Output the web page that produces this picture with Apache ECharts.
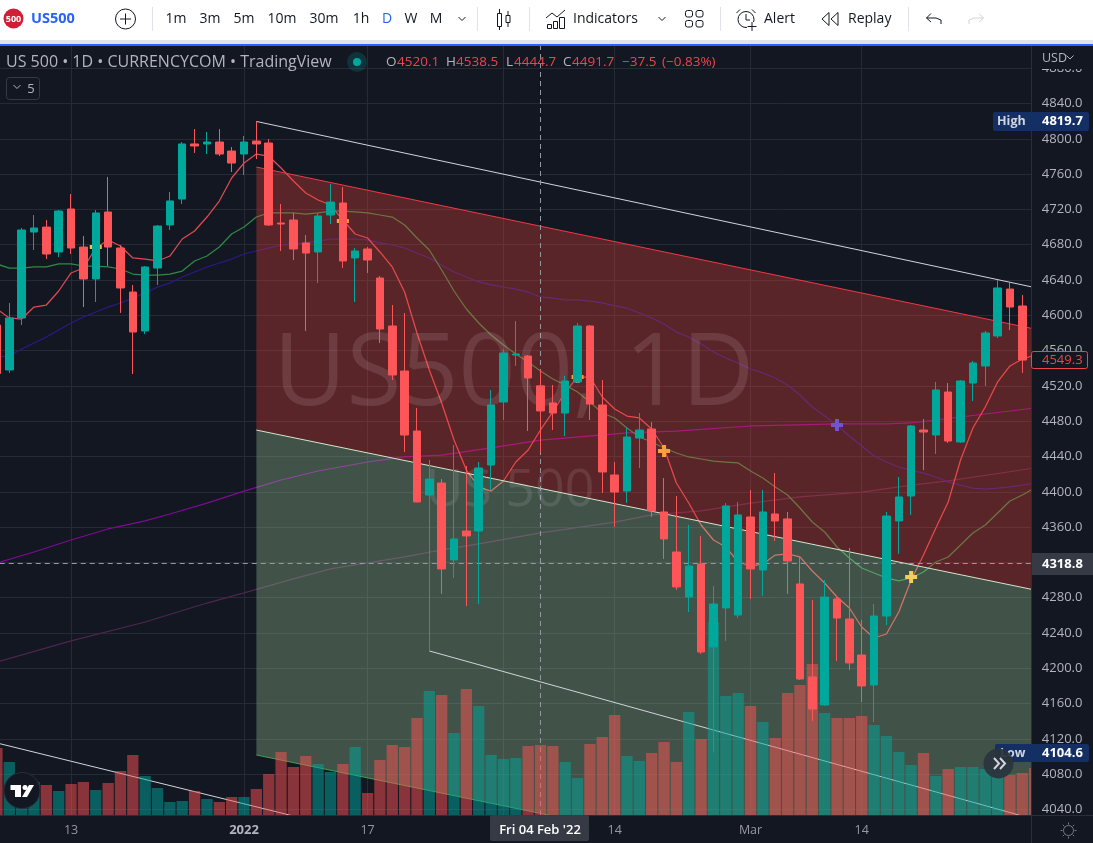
<!DOCTYPE html>
<html><head><meta charset="utf-8"><style>html,body{margin:0;padding:0;background:#131722}#c{width:1093px;height:843px}</style>
<script src="https://cdn.jsdelivr.net/npm/echarts@6/dist/echarts.min.js"></script></head><body><div id="c"></div>
<script>
const opens=[4589,4538.1,4597,4694.4,4700,4671.8,4720.5,4677.4,4641.2,4717.1,4676.3,4626.4,4582.3,4653.6,4702.4,4731.8,4794.2,4794.2,4796.4,4786.2,4782.8,4797.5,4795.3,4704.6,4708,4682,4671.8,4713.7,4727.3,4665,4675.2,4642.3,4587.9,4536.9,4468.9,4396.4,4410,4322.8,4355.6,4355.6,4430.4,4501.8,4555,4553.9,4520.1,4500.7,4489.3,4524.5,4587.9,4498.4,4419.1,4400.9,4461,4471.2,4377.2,4331.8,4280.8,4318.2,4224.2,4268.4,4260.4,4371.5,4311.4,4374.9,4369.3,4295.6,4190.2,4158.5,4278.6,4255.9,4215.1,4181.1,4259.3,4367,4395.3,4470.1,4464.4,4513.1,4456.5,4523.3,4542.6,4576.6,4629.8,4610.6];
const closes=[4534,4597,4696.7,4699,4669.5,4718.2,4676.3,4641.2,4716,4677.4,4631,4581.1,4654.8,4701.2,4729.6,4794.2,4791.9,4796.4,4782.8,4772.6,4796.4,4794.2,4702.4,4703.5,4675.2,4670.6,4712.6,4728.4,4661.6,4672.9,4662.7,4584.5,4532.4,4464.4,4388.5,4414.5,4312.6,4346.6,4350,4427,4498.4,4557.3,4556.2,4529,4491.7,4489.3,4525.6,4587.9,4499.5,4422.5,4399.8,4462.1,4470.1,4378.3,4346.6,4292.2,4316,4218.5,4272.9,4384,4373.8,4312.6,4377.2,4367,4321.6,4187.9,4153.9,4280.8,4257,4206.1,4180,4259.3,4372.6,4394.2,4474.6,4467.8,4515.4,4457.6,4525.6,4546,4580,4631,4609.4,4549.3];
const lows=[4530,4534.7,4589,4674,4663.8,4666,4669.5,4609.4,4615.1,4655.9,4602.7,4533.5,4578.9,4634.4,4696.7,4726.2,4784,4782.8,4780.5,4762.4,4759,4777.1,4701.2,4672.9,4662.7,4582.3,4636.6,4703.5,4653.6,4615.1,4648,4568.6,4526.7,4445.1,4388,4220.8,4284.3,4302.4,4270.6,4272.9,4402.1,4481.4,4542.6,4468.9,4444.7,4470.1,4463.3,4523.3,4481.4,4398.7,4360.2,4387.3,4427,4371.5,4323.9,4288.8,4263.8,4216.3,4104.6,4231,4257,4278.6,4282,4344.3,4284.3,4186.8,4140.3,4157.3,4208.3,4198.1,4161.9,4139.2,4249.1,4329.6,4373.8,4424.7,4442.9,4455.3,4455.3,4502.9,4519.9,4574.3,4583.4,4534.7];
const highs=[4595,4614,4699,4713.7,4708,4719.3,4737.5,4689.9,4719.3,4756.8,4679.7,4634.4,4655.9,4702.4,4739.8,4796.4,4811.1,4807.7,4811.1,4790.7,4803.2,4819.7,4799.8,4726.2,4716,4691,4716,4748.8,4745.4,4676.3,4677.4,4644.6,4611.7,4602.6,4495,4436.1,4414.5,4453.1,4429.3,4433.8,4515.4,4561.8,4593.6,4555,4538.5,4521.1,4531.3,4591.3,4589,4526.7,4433.8,4473.5,4489.3,4479.1,4415.7,4395.3,4362.4,4350,4293.3,4387.3,4388.5,4402.1,4402.1,4421.3,4377.2,4327.3,4277.4,4300.1,4282,4336.4,4254.8,4272.9,4377.2,4416.8,4475.7,4482.5,4524.5,4523.3,4526.7,4548.3,4582.3,4640,4636.6,4623];
const volumes=[67,53,35,33,30,24,31,33,25,32,44,60,39,27,13,14,24,16,13,18,18,26,41,63,48,59,51,43,51,68,22,55,70,68,97,124,120,82,126,109,60,56,57,69,70,69,53,37,71,78,100,59,54,62,73,53,103,76,193,119,122,109,93,77,122,130,151,102,97,97,99,90,79,63,50,62,39,46,48,48,46,42,40,42,47];
const maFast=[4607.2,4597,4595.8,4609.4,4611.7,4627.6,4648,4653.6,4676.3,4685.4,4678.6,4665,4663.8,4661.6,4667.2,4686.5,4695.6,4711.4,4729.5,4755.6,4772.6,4782.8,4780.5,4766.9,4752.2,4738.6,4730.7,4725,4708,4692.2,4687.6,4671.8,4654.8,4626.4,4580,4538.1,4500.7,4458.7,4424.7,4405.5,4400.9,4412.3,4433.8,4447.4,4470.1,4490.5,4513.1,4530.1,4530.1,4507.5,4493.9,4485.9,4483.7,4471.2,4449.7,4410,4387.3,4362.4,4345.4,4337.5,4320.5,4316,4318.2,4328.4,4329.6,4326.2,4310.3,4296.7,4280.8,4268.4,4246.8,4234.4,4238.9,4263.8,4300.1,4328.4,4359,4388.5,4436.1,4472.3,4496.1,4524.5,4542.6,4550.5,4555];
const maMid=[4658.2,4653.6,4653.6,4654.8,4654.8,4658.2,4658.2,4655.9,4655.9,4654.8,4652.5,4646.8,4645.7,4645.7,4646.8,4650.2,4661.6,4667.2,4677.4,4692.2,4700.1,4711.4,4716,4716,4716,4714.8,4716,4718.2,4718.2,4717.1,4716,4713.7,4711.4,4702.4,4687.6,4674,4651.4,4627.6,4607.2,4591.3,4577.7,4566.4,4556.2,4547.1,4536.9,4527.9,4521.1,4513.1,4501.8,4489.3,4483.7,4472.3,4462.1,4456.5,4449.7,4444,4439.5,4437.2,4434.9,4433.8,4432.7,4423.6,4415.7,4405.5,4396.4,4381.7,4365.8,4354.5,4337.5,4325,4313.7,4308,4302.4,4299,4302.4,4309.2,4320.5,4326.2,4339.8,4353.4,4362.4,4376,4389.6,4396.4,4404.3];
const maSlow=[4552.8,4553.9,4561.8,4568.6,4575.4,4583.4,4591.3,4598.1,4603.8,4609.4,4614,4619.6,4625.3,4632.1,4636.6,4643.4,4649.1,4654.8,4659.3,4663.8,4669.5,4672.9,4676.3,4679.7,4680.8,4682,4684.2,4686.5,4686.5,4686.5,4685.4,4682,4679.7,4676.3,4670.6,4665,4657,4649.1,4643.4,4637.8,4634.4,4632.1,4629.8,4626.4,4620.8,4619.6,4617.4,4617.4,4616.2,4614,4610.6,4608.3,4602.6,4597,4590.2,4581.1,4575.4,4567.5,4558.4,4551.6,4546,4539.2,4534.7,4529,4521.1,4509.7,4496.1,4485.9,4475.7,4463.3,4451.9,4440.6,4433.8,4428.1,4424.7,4421.3,4416.8,4411.2,4407.7,4404.3,4403.2,4404.3,4405.5,4407.7,4410];
const ma200Pts=[[0,4319.4],[3,4331.8],[6,4345.4],[9,4357.9],[12,4367],[14,4374.9],[17,4387.3],[20,4400.9],[23,4413.4],[26,4423.6],[30,4433.8],[33,4439.5],[36,4441.7],[40,4449.7],[44,4458.7],[51,4466.7],[55,4468.9],[61,4474.6],[64,4475.7],[68,4476.9],[72,4476.9],[74,4478],[78,4484.8],[84,4495]];
const ma200bPts=[[0,4207.2],[6,4231],[12,4252.5],[17,4274],[20,4285.4],[24,4301.3],[27,4312.6],[30,4319.4],[33,4326.2],[36,4334.1],[39,4340.9],[44,4353.4],[50,4365.8],[53,4373.8],[57,4378.3],[61,4387.3],[65,4394.2],[70,4399.8],[74,4407.7],[77,4412.3],[84,4427]];
const channelStart=21, channelEnd=84;
const chTop=[4819.7,4631.5], chUpper=[4768,4584.5], chMid=[4470,4288.8], chLower=[4101.8,3920.5];
const lowerRay=[[35,4219.7],[83,4032.7]], leftRay=[[0,4115.4],[24,4032.7]];
const plusMarks=[[54,4446.2,'#ff9f3a'],[68,4475.7,'#7056cc'],[74,4303.5,'#f0cf5a'],[28,4706.9,'#f9a13d'],[8,4677.4,'#f5c242'],[47,4530.1,'#f9a13d']];
const yTicks=[4040,4080,4120,4160,4200,4240,4280,4320,4360,4400,4440,4480,4520,4560,4600,4640,4680,4720,4760,4800,4840,4880];
const xTickIdx=[6,20,30,41,50,61,70];
const xTickLabels=['13','2022','17','Feb','14','Mar','14'];
const crossIdx=44, crossPrice=4318.8;
const categories=volumes.map((_,i)=>String(i));
const UP='#00a79b',DN='#fd5558',GRID='#262a36';
const FONT='"Open Sans"';

const G=[];
const txt=(t,x,y,fill,size,o={})=>G.push({type:'text',z:o.z||60,silent:true,x,y,style:{text:t,fill,font:(o.w||'normal')+' '+size+'px '+(o.f||FONT),textAlign:o.a||'left',textVerticalAlign:'middle'}});
const rect=(x,y,w,h,fill,o={})=>G.push({type:'rect',z:o.z||60,silent:true,shape:{x,y,width:w,height:h,r:o.r||0},style:{fill,stroke:o.s||null,lineWidth:o.lw||1}});
const circ=(x,y,r,fill,o={})=>G.push({type:'circle',z:o.z||60,silent:true,shape:{cx:x,cy:y,r},style:{fill,stroke:o.s||null,lineWidth:o.lw||1}});
const pl=(pts,s,o={})=>G.push({type:'polyline',z:o.z||60,silent:true,shape:{points:pts},style:{fill:null,stroke:s,lineWidth:o.lw||1}});
const poly=(pts,f,o={})=>G.push({type:'polygon',z:o.z||60,silent:true,shape:{points:pts},style:{fill:f}});

// watermarks
const wm='rgba(255,255,255,0.11)';
txt('US500, 1D',514,377,wm,100,{z:6,a:'center'});
txt('US 500',510,491,'rgba(255,255,255,0.10)',52,{z:6,a:'center'});

// panels
rect(1031,46,62,797,'#131722',{z:40});
rect(1031,46,62,23,'#131722',{z:45});
pl([[1031.5,46],[1031.5,843]],'#2a2e39',{z:46});
pl([[0,815.5],[1093,815.5]],'#2a2e39',{z:46});

// toolbar
rect(0,0,1093,40,'#ffffff');rect(0,40,1093,4,'#e0e3eb');rect(0,44,1093,2,'#2962ff');
circ(13.5,18.5,10,'#d01f35');txt('500',13.5,19,'#fff',9,{a:'center',w:'bold'});
txt('US500',31,18.5,'#2962ff',14.5,{w:'bold'});
circ(125.5,19,10,'#fff',{s:'#131722',lw:1});pl([[120,19],[131,19]],'#131722');pl([[125.5,13.5],[125.5,24.5]],'#131722');
[152,477,529,720,908].forEach(x=>pl([[x+.5,7],[x+.5,31]],'#e0e3eb'));
[['1m',176],['3m',210],['5m',244],['10m',282],['30m',324],['1h',361],['W',411],['M',436]].forEach(a=>txt(a[0],a[1],19,'#131722',14,{a:'center'}));
txt('D',387,19,'#2962ff',14,{a:'center'});
const chev=(x,y,c,o)=>pl([[x-3.5,y-2],[x,y+1.5],[x+3.5,y-2]],c,o);
chev(462,19,'#131722');chev(662,19,'#131722');
pl([[499.5,9],[499.5,30]],'#131722');rect(497.5,13.5,4,13,'#fff',{s:'#131722'});
pl([[508,11],[508,27]],'#131722');rect(506,15.5,4,7,'#fff',{s:'#131722'});
pl([[546,18],[552,13],[557,17],[565,10]],'#131722');
[[547,24,4,4],[553,21,4,7],[559,17,5,11]].forEach(r=>rect(r[0]+.5,r[1]+.5,r[2],r[3],'#fff',{s:'#131722'}));
txt('Indicators',573,19,'#131722',14);
[[685.5,10.5],[696,10.5],[685.5,20.5],[696,20.5]].forEach(p=>rect(p[0],p[1],7,6.5,'#fff',{s:'#131722',r:2}));
circ(746,19.5,8,'#fff',{s:'#131722'});pl([[746,14],[746,20],[750,20]],'#131722');
pl([[736.5,13],[740,9.5]],'#131722');pl([[752,9.5],[755.5,13]],'#131722');
rect(747,22,10,8,'#fff');pl([[752,22],[752,31]],'#131722');pl([[747.5,26.5],[756.5,26.5]],'#131722');
txt('Alert',764,19,'#131722',14);
pl([[829,12.5],[822,19],[829,25.5],[829,12.5]],'#131722');pl([[838,12.5],[831,19],[838,25.5],[838,12.5]],'#131722');
txt('Replay',848,19,'#131722',14);
pl([[931,13.5],[926.5,18],[931,22]],'#131722');pl([[926.5,18],[936,18],[941,20],[941,24]],'#131722');
pl([[979,13.5],[983.5,18],[979,22]],'#d1d4dc');pl([[983.5,18],[974,18],[969,20],[969,24]],'#d1d4dc');

// legend
txt('US 500 • 1D • CURRENCYCOM • TradingView',6,62,'#b2b5be',16);
circ(357,62,10,'rgba(0,167,155,0.2)');circ(357,62,4,'#00a79b');
const RED='#f0444c',GR='#b2b5be';
[['O',386,GR],['4520.1',397,RED],['H',446,GR],['4538.5',456,RED],['L',506,GR],['4444.7',514,RED],['C',563,GR],['4491.7',572,RED],['−37.5',622,RED],['(−0.83%)',662,RED]].forEach(a=>txt(a[0],a[1],62.5,a[2],13.5));
rect(6.5,77.5,33,22,'#131722',{s:'#363a45',r:3});chev(17,87,'#b2b5be');txt('5',31,89,'#b2b5be',13,{a:'center'});

// axis chrome
txt('USD',1042,58,'#b2b5be',12.5,{z:47});chev(1070,57.5,'#b2b5be',{z:47});
rect(993,112,96,19,'#132f63',{z:48,r:2});txt('High',997,121.5,'#d1d4dc',12.5,{z:49,w:'bold'});txt('4819.7',1042,121.5,'#ffffff',13,{z:49,w:'bold'});
rect(995,744,94,18,'#132f63',{z:48,r:2});txt('Low',1000,753,'#d1d4dc',12.5,{z:49,w:'bold'});txt('4104.6',1042,753,'#ffffff',13,{z:49,w:'bold'});
circ(998.5,763.5,15,'rgba(42,52,62,0.94)',{z:50});
pl([[994,758],[999,763.5],[994,769]],'#d1d4dc',{z:51,lw:2});pl([[1000,758],[1005,763.5],[1000,769]],'#d1d4dc',{z:51,lw:2});
rect(1031.5,351.5,56,17,'#131722',{z:48,s:'#f0444c',r:2});txt('4549.3',1042,360.5,'#f0444c',13,{z:49});
rect(1032,553,61,22,'#363a45',{z:48});txt('4318.8',1042,564,'#ffffff',13,{z:49,w:'bold'});
rect(490,815,99,26,'#363a45',{z:48,r:2});txt("Fri 04 Feb '22",540,830,'#ffffff',13,{z:49,a:'center',w:'600'});
circ(1068.5,830.5,5,'#131722',{s:'#787b86',z:47});
[[0,-8,0,-6],[0,6,0,8],[-8,0,-6,0],[6,0,8,0],[-5.7,-5.7,-4.2,-4.2],[4.2,4.2,5.7,5.7],[-5.7,5.7,-4.2,4.2],[4.2,-4.2,5.7,-5.7]].forEach(d=>pl([[1068.5+d[0],830.5+d[1]],[1068.5+d[2],830.5+d[3]]],'#787b86',{z:47}));

// TV logo
circ(22,790.5,18,'#131722',{s:'#2a2e39',z:50});
rect(10.5,785,10.5,5,'#fff',{z:51});rect(15,785,6,12,'#fff',{z:51});circ(25,787.5,2.5,'#fff',{z:51});
poly([[29,785],[34,785],[27,797],[22,797]],'#fff',{z:51});

const lineS=(data,color,z,w)=>({type:'line',data,showSymbol:false,symbol:'none',silent:true,animation:false,clip:true,lineStyle:{color,width:w||1.25},z,xAxisIndex:0,yAxisIndex:0});
const seg=(c,v)=>[[channelStart,v[0]],[channelEnd,v[1]]];

const option={
 animation:false,backgroundColor:'#131722',
 grid:{left:-9.25,top:46,width:1050.1,height:769,containLabel:false,outerBoundsMode:'none'},
 xAxis:{type:'category',data:categories,boundaryGap:true,axisLine:{show:false},
  axisTick:{show:false,customValues:xTickIdx,alignWithLabel:true},
  splitLine:{show:true,alignWithLabel:true,lineStyle:{color:GRID,width:1}},
  axisLabel:{customValues:xTickIdx.filter(i=>i!==41),margin:9,fontFamily:FONT,fontSize:12.5,color:'#9598a1',hideOverlap:false,
   formatter:v=>{const s=xTickLabels[xTickIdx.indexOf(+v)];return s==='2022'?'{b|2022}':s},
   rich:{b:{fontFamily:FONT,fontSize:13,fontWeight:'bold',color:'#b2b5be'}}}},
 yAxis:[
  {type:'value',min:4033.8,max:4905.2,position:'right',axisLine:{show:false},axisLabel:{show:false},
   axisTick:{show:false,customValues:yTicks},splitLine:{show:true,lineStyle:{color:GRID,width:1}}},
  {type:'value',min:4033.8,max:4905.2,position:'right',z:42,axisLine:{show:false},splitLine:{show:false},axisTick:{show:false},
   axisLabel:{customValues:yTicks,margin:1,fontFamily:FONT,fontSize:13,color:'#b2b5be',formatter:v=>v.toFixed(1)}},
  {type:'value',min:0,max:769,show:false,splitLine:{show:false}}
 ],
 series:[
  lineS(ma200Pts,'#800a96',2),
  lineS(ma200bPts,'#4d2650',2),
  lineS(maSlow.map((v,i)=>[i,v]),'#2a1a8a',2),
  lineS(maMid.map((v,i)=>[i,v]),'#2e8b45',2),
  lineS(maFast.map((v,i)=>[i,v]),'#e04a50',2),
  {type:'custom',z:3,clip:true,silent:true,animation:false,data:[[channelStart,chTop[0]]],xAxisIndex:0,yAxisIndex:0,
   renderItem:(p,api)=>{
    const c=(i,v)=>api.coord([i,v]);
    return {type:'group',children:[
     {type:'polygon',shape:{points:[c(channelStart,chUpper[0]),c(channelEnd,chUpper[1]),c(channelEnd,chMid[1]),c(channelStart,chMid[0])]},style:{fill:'rgba(255,70,60,0.3)'}},
     {type:'polygon',shape:{points:[c(channelStart,chMid[0]),c(channelEnd,chMid[1]),c(channelEnd,chLower[1]),c(channelStart,chLower[0])]},style:{fill:'rgba(172,220,167,0.3)'}}
    ]};
   }},
  lineS(seg(0,chTop),'#d1d4dc',4,1),
  lineS(seg(0,chUpper),'#f23645',4,1),
  lineS(seg(0,chMid),'#d6e6cc',4,1),
  lineS(seg(0,chLower),'#3ea24f',4,1),
  lineS(lowerRay,'#d1d4dc',4,1),
  lineS(leftRay,'#d1d4dc',4,1),
  {type:'bar',z:5,yAxisIndex:2,xAxisIndex:0,barWidth:11.3,silent:true,animation:false,
   data:volumes.map((v,i)=>({value:v,itemStyle:{color:(i<closes.length&&closes[i]>opens[i])?'rgba(0,167,155,0.5)':'rgba(255,82,82,0.5)'}}))},
  {type:'line',z:6,data:[],silent:true,animation:false,xAxisIndex:0,yAxisIndex:0,
   markLine:{silent:true,symbol:'none',animation:false,label:{show:false},lineStyle:{color:'#9598a1',type:[5,4],width:1},
    data:[{xAxis:crossIdx},{yAxis:crossPrice}]}},
  {type:'scatter',z:6,silent:true,animation:false,symbol:'path://M4,0H8V4H12V8H8V12H4V8H0V4H4Z',symbolSize:12,xAxisIndex:0,yAxisIndex:0,
   data:plusMarks.map(m=>({value:[m[0],m[1]],itemStyle:{color:m[2],opacity:1}}))},
  {type:'candlestick',z:7,silent:true,animation:false,barWidth:8,xAxisIndex:0,yAxisIndex:0,
   itemStyle:{color:UP,color0:DN,borderColor:UP,borderColor0:DN,borderWidth:1},
   data:opens.map((o,i)=>[o,closes[i],lows[i],highs[i]])}
 ],
 graphic:{elements:G}
};
const chart=echarts.init(document.getElementById('c'),null,{renderer:'canvas'});
chart.setOption(option);
</script></body></html>
